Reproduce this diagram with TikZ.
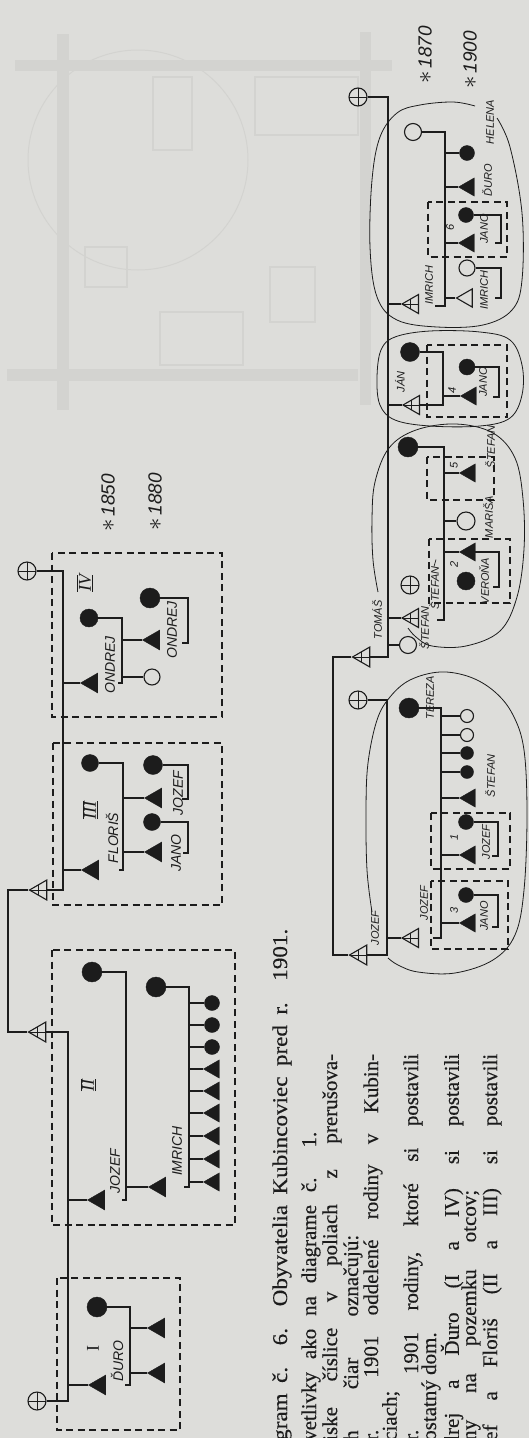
\documentclass[tikz,border=0pt]{standalone}
\usepackage{fontspec}
\setmainfont{Liberation Serif}
\newfontfamily\handfont{Liberation Sans}
\newfontfamily\capfont{Liberation Serif}[FakeBold=0.3]
\newfontfamily\titlefont{Liberation Serif}[FakeBold=0.3, FakeStretch=1.1]
\usepackage{tikz}
\usetikzlibrary{shapes.geometric}

\definecolor{paper}{RGB}{221,221,218}
\definecolor{ink}{RGB}{28,28,28}
\definecolor{ghost}{RGB}{211,211,208}

\newcommand{\rnum}[1]{$\overline{\underline{\mbox{\itshape #1}}}$}
\newcommand{\born}[1]{{\fontsize{28}{28}\selectfont$\ast$}\hspace{3pt}#1}

\tikzset{
  ln/.style={draw=ink, line width=1.1pt},
  hh/.style={draw=ink, line width=1.3pt, dash pattern=on 7pt off 4.5pt},
  ring/.style={draw=ink, line width=0.8pt},
  xbar/.style={path picture={\draw[ink, line width=0.9pt]
      ([xshift=-14pt]path picture bounding box.center) -- ([xshift=14pt]path picture bounding box.center)
      ([yshift=-14pt]path picture bounding box.center) -- ([yshift=14pt]path picture bounding box.center);}},
  fem/.style={circle, draw=ink, fill=ink, inner sep=0pt, minimum size=#1},
  fem/.default=18pt,
  femo/.style={circle, draw=ink, fill=paper, line width=1.1pt, inner sep=0pt, minimum size=#1},
  femo/.default=17pt,
  femx/.style={femo=#1, xbar},
  femx/.default=18pt,
  male/.style={regular polygon, regular polygon sides=3, shape border rotate=90, draw=ink, fill=ink, inner sep=0pt, minimum size=#1},
  male/.default=23pt,
  maleo/.style={male=#1, fill=paper, line width=1.1pt},
  maleo/.default=22pt,
  malex/.style={maleo=#1, xbar},
  malex/.default=23pt,
  nm/.style={rotate=90, inner sep=0pt, text=ink, font=\fontsize{14}{14}\selectfont\handfont\itshape},
  nms/.style={nm, font=\fontsize{11}{11}\selectfont\handfont\itshape},
  yr/.style={nm, font=\fontsize{19}{19}\selectfont\handfont\itshape},
  rn/.style={rotate=90, inner sep=0pt, text=ink, font=\fontsize{18}{18}\selectfont},
  txt/.style={rotate=90, anchor=west, inner sep=0pt, text=ink, font=\fontsize{21}{21}\selectfont\capfont},
}

\begin{document}
\begin{tikzpicture}[x=1pt, y=-1pt]
\useasboundingbox (0,0) rectangle (529,1438);
\fill[paper] (0,0) rectangle (529,1438);

% show-through from the back of the page
\fill[ghost] (15,60) rectangle (392,71);
\fill[ghost] (7,369) rectangle (358,381);
\fill[ghost] (57,34) rectangle (69,410);
\fill[ghost] (360,32) rectangle (371,405);
\draw[ghost, line width=1.3pt] (153,77) rectangle (192,150);
\draw[ghost, line width=1.3pt] (255,77) rectangle (358,135);
\draw[ghost, line width=1.3pt] (85,247) rectangle (127,287);
\draw[ghost, line width=1.3pt] (270,267) rectangle (315,322);
\draw[ghost, line width=1.3pt] (160,312) rectangle (243,365);
\draw[ghost, line width=1pt] (138,160) circle [radius=110];

% households before 1901
\draw[hh] (52,553) rectangle (222,717);
\draw[hh] (53,743) rectangle (222,905);
\draw[hh] (52,950) rectangle (235,1225);
\draw[hh] (57,1278) rectangle (180,1430);

\node[femx] (bab1) at (27,571) {};
\node[malex] (ded1) at (41,890) {};
\node[malex] (ded2) at (40,1032) {};
\node[femx] (bab2) at (37,1401) {};
\coordinate (ta) at (63,571);
\coordinate (tb) at (63,890);
\coordinate (ga) at (8,890);
\coordinate (gb) at (8,1032);
\coordinate (tc) at (68,1032);
\coordinate (td) at (68,1401);
\draw[ln] (bab1) -- (ta) -- (tb) -- (ded1) -- (ga) -- (gb) -- (ded2) -- (tc) -- (td) -- (bab2);

\node[yr] (y1850) at (108,503) {\born{1850}};
\node[yr] (y1880) at (155,502) {\born{1880}};

\node[rn] (rIV) at (85,583) {\rnum{IV}};
\node[fem] (w4) at (89,618) {};
\node[male] (f4) at (92,683) {};
\node[nm] (nf4) at (110,665) {ONDREJ};
\coordinate (c4) at (122,683);
\draw[ln] (ta |- f4) -- (f4);
\draw[ln] (w4) -| (c4) -- ++(-4,0);
\node[male] (s4) at (154,640) {};
\node[femo=16pt] (d4) at (152,677) {};
\draw[ln] (c4 |- s4) -- (s4);
\draw[ln] (c4 |- d4) -- (d4);
\node[fem=20pt] (sw4) at (150,598) {};
\coordinate (k4) at (188,643);
\draw[ln] (sw4) -| (k4) -- ++(-6,0);
\node[nm] (ns4) at (172,630) {ONDREJ};

\node[rn] (rIII) at (90,810) {\rnum{III}};
\node[fem=17pt] (w3) at (90,763) {};
\node[male] (f3) at (93,870) {};
\node[nm] (nf3) at (112,838) {FLORIŠ};
\coordinate (c3) at (123,870);
\draw[ln] (ta |- f3) -- (f3);
\draw[ln] (w3) -| (c3) -- ++(-4,0);
\node[male] (s3a) at (156,798) {};
\node[male] (s3b) at (156,852) {};
\draw[ln] (c3 |- s3a) -- (s3a);
\draw[ln] (c3 |- s3b) -- (s3b);
\node[fem=19pt] (sw3a) at (153,765) {};
\node[fem=17pt] (sw3b) at (152,822) {};
\coordinate (k3a) at (188,799);
\coordinate (k3b) at (188,853);
\draw[ln] (sw3a) -| (k3a) -- ++(-6,0);
\draw[ln] (sw3b) -| (k3b) -- ++(-5,0);
\node[nm] (ns3a) at (178,793) {JOZEF};
\node[nm] (ns3b) at (176,853) {JANO};

\node[rn] (rII) at (88,1085) {\rnum{II}};
\node[fem=20pt] (w2) at (92,972) {};
\node[male] (f2) at (99,1200) {};
\node[nm] (nf2) at (115,1171) {JOZEF};
\coordinate (c2) at (126,1200);
\draw[ln] (tc |- f2) -- (f2);
\draw[ln] (w2) -| (c2) -- ++(-4,0);
\node[male] (s2) at (160,1187) {};
\draw[ln] (c2 |- s2) -- (s2);
\node[fem=20pt] (sw2) at (156,987) {};
\coordinate (k2) at (189,1187);
\draw[ln] (sw2) -| (k2) -- ++(-5,0);
\node[nm] (ns2) at (177,1151) {IMRICH};
\node[fem=15pt] (d2a) at (212,1003) {};
\node[fem=15pt] (d2b) at (212,1025) {};
\node[fem=15pt] (d2c) at (212,1047) {};
\node[male=21pt] (d2d) at (214,1069) {};
\node[male=21pt] (d2e) at (214,1091) {};
\node[male=21pt] (d2f) at (214,1113) {};
\node[male=21pt] (d2g) at (214,1136) {};
\node[male=21pt] (d2h) at (214,1159) {};
\node[male=21pt] (d2i) at (214,1182) {};
\draw[ln] (k2 |- d2a) -- (d2a);
\draw[ln] (k2 |- d2b) -- (d2b);
\draw[ln] (k2 |- d2c) -- (d2c);
\draw[ln] (k2 |- d2d) -- (d2d);
\draw[ln] (k2 |- d2e) -- (d2e);
\draw[ln] (k2 |- d2f) -- (d2f);
\draw[ln] (k2 |- d2g) -- (d2g);
\draw[ln] (k2 |- d2h) -- (d2h);
\draw[ln] (k2 |- d2i) -- (d2i);

\node[rn] (rI) at (93,1348) {I};
\node[fem=20pt] (w1) at (97,1307) {};
\node[male] (f1) at (100,1385) {};
\node[nm] (nf1) at (117,1361) {ĎURO};
\coordinate (c1) at (130,1385);
\draw[ln] (tc |- f1) -- (f1);
\draw[ln] (w1) -| (c1) -- ++(-5,0);
\node[male] (s1a) at (159,1328) {};
\node[male] (s1b) at (159,1373) {};
\draw[ln] (c1 |- s1a) -- (s1a);
\draw[ln] (c1 |- s1b) -- (s1b);

% households in 1901
\node[yr] (y1870) at (425,55) {\born{1870}};
\node[yr] (y1900) at (470,60) {\born{1900}};

\node[femx] (bab3) at (358,97) {};
\node[malex] (ded3) at (364,657) {};
\node[malex] (ded4) at (361,955) {};
\node[femx] (bab4) at (358,700) {};
\node[femo] (bab5) at (408,645) {};
\coordinate (tr) at (388,97);
\coordinate (trb) at (388,657);
\coordinate (tl) at (333,657);
\coordinate (tlb) at (333,955);
\coordinate (tr2) at (387,700);
\coordinate (tr2b) at (387,955);
\draw[ln] (bab3) -- (tr) -- (trb) -- (ded3) -- (tl) -- (tlb) -- (ded4) -- (tr2b) -- (tr2) -- (bab4);
\draw[ln] (tr |- bab5) -- (bab5);
\node[nms] (nded3) at (377,620) {TOMÁŠ};
\node[nms] (nded4) at (375,928) {JOZEF};

\draw[ring] plot[smooth, tension=0.6] coordinates {(497,118) (510,147) (522,213) (522,280) (512,310) (483,325) (437,327) (397,320) (377,297) (370,247) (372,180) (380,137) (397,113) (420,105) (453,102) (475,106)};
\draw[hh] (428,202) rectangle (507,257);
\node[malex=22pt] (f6) at (413,304) {};
\node[femo] (w6) at (413,132) {};
\node[nms] (nf6) at (429,285) {IMRICH};
\node[nms] (nw6) at (490,122) {HELENA};
\coordinate (c6) at (445,306);
\draw[ln] (tr |- f6) -- (f6);
\draw[ln] (w6) -| (c6) -- ++(-10,0);
\node[fem=15pt] (s6a) at (467,153) {};
\node[male=21pt] (s6b) at (469,187) {};
\node[male=21pt] (s6c) at (469,243) {};
\node[maleo=21pt] (s6d) at (467,298) {};
\draw[ln] (c6 |- s6a) -- (s6a);
\draw[ln] (c6 |- s6b) -- (s6b);
\draw[ln] (c6 |- s6c) -- (s6c);
\draw[ln] (c6 |- s6d) -- (s6d);
\node[nms] (ns6b) at (487,180) {ĎURO};
\node[fem=15pt] (sw6c) at (466,215) {};
\coordinate (k6c) at (501,243);
\draw[ln] (sw6c) -| (k6c) -- ++(-6,0);
\node[nms] (ns6c) at (484,229) {JANO};
\node[femo=16pt] (sw6d) at (467,268) {};
\coordinate (k6d) at (501,298);
\draw[ln] (sw6d) -| (k6d) -- ++(-6,0);
\node[nms] (ns6d) at (484,290) {IMRICH};
\node[nms] (n6) at (450,227) {6};

\draw[ring] plot[smooth cycle, tension=0.6] coordinates {(377,378) (381,350) (395,337) (430,331) (480,332) (510,340) (522,365) (522,395) (510,418) (480,426) (430,426) (395,420) (380,405)};
\draw[hh] (427,345) rectangle (507,417);
\node[malex=22pt] (f4r) at (414,405) {};
\node[fem=19pt] (w4r) at (410,352) {};
\node[nms] (nf4r) at (400,382) {JÁN};
\coordinate (c4r) at (443,405);
\draw[ln] (tr |- f4r) -- (f4r);
\draw[ln] (w4r) -| (c4r) -- (f4r);
\node[male=21pt] (s4r) at (471,396) {};
\draw[ln] (c4r |- s4r) -- (s4r);
\node[fem=16pt] (sw4r) at (467,367) {};
\coordinate (k4r) at (499,397);
\draw[ln] (sw4r) -| (k4r) -- ++(-6,0);
\node[nms] (ns4r) at (483,382) {JANO};
\node[nms] (n4) at (452,390) {4};

\draw[ring] plot[smooth, tension=0.6] coordinates {(378,592) (373,560) (372,519) (375,482) (389,448) (416,430) (456,424) (493,433) (515,458) (523,499) (524,549) (517,597) (500,631) (466,646) (432,646) (416,637) (408,628)};
\draw[hh] (427,457) rectangle (494,500);
\draw[hh] (429,539) rectangle (510,603);
\node[fem=20pt] (w25) at (408,447) {};
\node[femx] (wx25) at (410,585) {};
\node[malex=22pt] (f25) at (413,618) {};
\coordinate (c25) at (444,620);
\draw[ln] (tr |- f25) -- (f25);
\draw[ln] (w25) -| (c25) -- ++(-7,0);
\node[nms] (nf25) at (424,628) {ŠTEFAN};
\node[nms] (ns25c) at (434,588) {ŠTEFAN};
\draw[ln, line width=0.7pt] (ns25c.east) -- ++(2,-7);
\node[male=21pt] (s25a) at (470,473) {};
\node[femo=18pt] (s25b) at (466,521) {};
\node[male=21pt] (s25c) at (470,552) {};
\node[fem=18pt] (sw25c) at (466,581) {};
\draw[ln] (c25 |- s25a) -- (s25a);
\draw[ln] (c25 |- s25b) -- (s25b);
\draw[ln] (c25 |- s25c) -- (s25c);
\coordinate (k25) at (499,587);
\draw[ln] (s25c) -| (k25) -- ++(-6,0);
\node[nms] (ns25a) at (490,447) {ŠTEFAN};
\node[nms] (ns25b) at (488,517) {MARIŠA};
\node[nms] (nsw25c) at (484,581) {VEROŇA};
\node[nms] (n5) at (454,465) {5};
\node[nms] (n2) at (454,564) {2};

\draw[ring] plot[smooth, tension=0.6] coordinates {(372,912) (367,870) (366,810) (368,763) (377,720) (390,697) (410,680) (440,672) (470,677) (495,692) (513,715) (524,750) (527,815) (524,890) (515,935) (493,960) (455,973) (418,972) (398,965) (388,958)};
\draw[hh] (431,813) rectangle (510,869);
\draw[hh] (431,881) rectangle (508,949);
\node[malex=22pt] (f31) at (413,938) {};
\node[fem=20pt] (w31) at (409,708) {};
\node[nms] (nw31) at (430,698) {TEREZA};
\node[nms] (nf31) at (424,903) {JOZEF};
\coordinate (c31) at (441,938);
\draw[ln] (tr2 |- f31) -- (f31);
\draw[ln] (w31) -| (c31) -- ++(-8,0);
\node[femo=13pt] (k31a) at (467,716) {};
\node[femo=13pt] (k31b) at (467,735) {};
\node[fem=13pt] (k31c) at (467,753) {};
\node[fem=13pt] (k31d) at (467,772) {};
\node[male=21pt] (k31e) at (470,798) {};
\node[male=21pt] (s31a) at (470,855) {};
\node[male=21pt] (s31b) at (470,923) {};
\draw[ln] (c31 |- k31a) -- (k31a);
\draw[ln] (c31 |- k31b) -- (k31b);
\draw[ln] (c31 |- k31c) -- (k31c);
\draw[ln] (c31 |- k31d) -- (k31d);
\draw[ln] (c31 |- k31e) -- (k31e);
\draw[ln] (c31 |- s31a) -- (s31a);
\draw[ln] (c31 |- s31b) -- (s31b);
\node[nms] (nk31e) at (490,776) {ŠTEFAN};
\node[fem=15pt] (sw31a) at (466,822) {};
\coordinate (k31s) at (498,856);
\draw[ln] (sw31a) -| (k31s) -- ++(-6,0);
\node[nms] (ns31a) at (486,842) {JOZEF};
\node[fem=15pt] (sw31b) at (466,895) {};
\coordinate (k31t) at (498,927);
\draw[ln] (sw31b) -| (k31t) -- ++(-6,0);
\node[nms] (ns31b) at (484,916) {JANO};
\node[nms] (n1) at (454,837) {1};
\node[nms] (n3) at (454,910) {3};

% caption, cut at the lower edge
\node[txt, font=\fontsize{21}{21}\selectfont\titlefont] (cap1) at (282,1441) {\makebox[512pt][s]{gram č. 6. Obyvatelia Kubincoviec pred r. 1901.}};
\node[txt] (cap2) at (311,1441) {\makebox[309pt][s]{vetlivky ako na diagrame č. 1.}};
\node[txt] (cap3) at (332,1441) {\makebox[387pt][s]{iske číslice v poliach z prerušova-}};
\node[txt] (cap4) at (353,1441) {\makebox[206pt][s]{h čiar označujú:}};
\node[txt] (cap5) at (373,1441) {\makebox[387pt][s]{r. 1901 oddelené rodiny v Kubin-}};
\node[txt] (cap6) at (391,1441) {ciach;};
\node[txt] (cap7) at (413,1441) {\makebox[387pt][s]{r. 1901 rodiny, ktoré si postavili}};
\node[txt] (cap8) at (431,1441) {ostatný dom.};
\node[txt] (cap9) at (452,1441) {\makebox[387pt][s]{lrej a Ďuro (I a IV) si postavili}};
\node[txt] (cap10) at (471,1441) {\makebox[251pt][s]{ny na pozemku otcov;}};
\node[txt] (cap11) at (492,1441) {\makebox[387pt][s]{ef a Floriš (II a III) si postavili}};
\end{tikzpicture}
\end{document}
